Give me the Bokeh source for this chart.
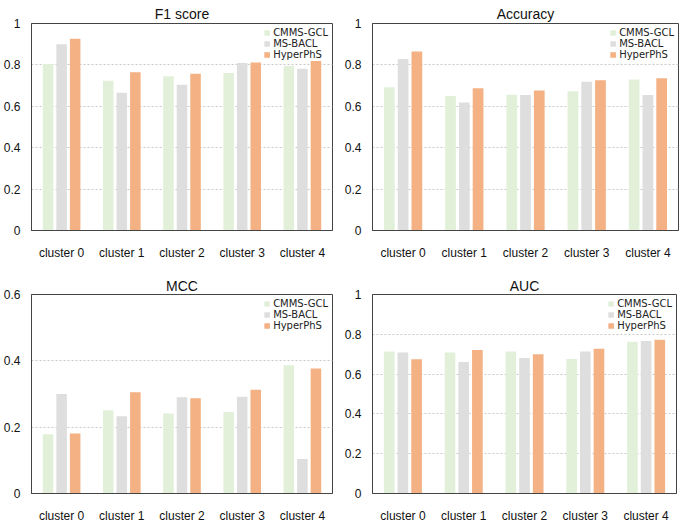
from bokeh.plotting import figure
from bokeh.layouts import column, row
from bokeh.models import FactorRange, Range1d, FixedTicker, CustomJSTickFormatter, ColumnDataSource, Legend, LegendItem
from bokeh.transform import dodge
from bokeh.embed import file_html
from bokeh.resources import INLINE

clusters = ["cluster 0", "cluster 1", "cluster 2", "cluster 3", "cluster 4"]
methods = ["CMMS-GCL", "MS-BACL", "HyperPhS"]
colors = ["#e2f0d9", "#dedede", "#f4b183"]

f1_cmms = [0.803, 0.724, 0.745, 0.761, 0.795]
f1_msbacl = [0.900, 0.665, 0.704, 0.809, 0.781]
f1_hyper = [0.926, 0.765, 0.757, 0.811, 0.819]

acc_cmms = [0.692, 0.650, 0.656, 0.673, 0.729]
acc_msbacl = [0.828, 0.618, 0.655, 0.719, 0.655]
acc_hyper = [0.865, 0.687, 0.676, 0.726, 0.735]

mcc_cmms = [0.179, 0.251, 0.241, 0.246, 0.387]
mcc_msbacl = [0.300, 0.233, 0.290, 0.292, 0.104]
mcc_hyper = [0.181, 0.305, 0.287, 0.313, 0.377]

auc_cmms = [0.714, 0.709, 0.714, 0.676, 0.762]
auc_msbacl = [0.708, 0.661, 0.681, 0.714, 0.766]
auc_hyper = [0.674, 0.721, 0.700, 0.727, 0.772]

ticks_1 = [0, 0.2, 0.4, 0.6, 0.8, 1]
ticks_06 = [0, 0.2, 0.4, 0.6]

FONT = "Liberation Sans"
LEG_FONT = "DejaVu Sans"


def panel(title, vals, ymax, ticks, w, h, bl, br, bt, bb, toff, valign):
    src = ColumnDataSource(dict(x=clusters, a=vals[0], b=vals[1], c=vals[2]))
    p = figure(x_range=FactorRange(factors=clusters, range_padding=0),
               y_range=Range1d(0, ymax), width=w, height=h,
               output_backend="svg", toolbar_location=None,
               min_border_left=bl, min_border_right=br,
               min_border_top=bt, min_border_bottom=bb)
    p.title.text = title
    p.title.align = "center"
    p.title.vertical_align = valign
    p.title.text_font = FONT
    p.title.text_font_size = "14px"
    p.title.text_font_style = "normal"
    p.title.text_color = "#111111"
    p.title.offset = toff
    p.title.standoff = 0
    offs = [-0.225, 0.0, 0.225]
    items = []
    for key, off, col, name in zip(["a", "b", "c"], offs, colors, methods):
        r = p.vbar(x=dodge("x", off, range=p.x_range), top=key, width=0.175,
                   source=src, fill_color=col, line_color=None)
        items.append(LegendItem(label=name, renderers=[r]))
    leg = Legend(items=items, location="top_right")
    leg.label_text_font = LEG_FONT
    leg.label_text_font_size = "10px"
    leg.label_text_color = "#222222"
    leg.glyph_width = 7
    leg.glyph_height = 7
    leg.label_height = 11
    leg.label_standoff = 3
    leg.spacing = 0
    leg.padding = 2
    leg.margin = 2
    leg.border_line_alpha = 0
    leg.background_fill_alpha = 0
    p.add_layout(leg)

    p.xgrid.grid_line_color = None
    p.ygrid.ticker = FixedTicker(ticks=ticks)
    p.ygrid.grid_line_color = "#c8c8c8"
    p.ygrid.grid_line_dash = "2 2"
    p.yaxis.ticker = FixedTicker(ticks=ticks)
    p.yaxis.formatter = CustomJSTickFormatter(code="return tick.toString()")
    for ax in (p.xaxis, p.yaxis):
        ax.major_tick_line_color = None
        ax.minor_tick_line_color = None
        ax.axis_line_color = "#444444"
        ax.major_label_text_font = FONT
        ax.major_label_text_font_size = "12px"
        ax.major_label_text_color = "#111111"
    p.yaxis.major_label_standoff = 5
    p.xaxis.major_label_standoff = 9
    p.outline_line_color = "#444444"
    p.outline_line_width = 1
    return p


p1 = panel("F1 score", [f1_cmms, f1_msbacl, f1_hyper], 1, ticks_1, 341, 262, 23, 9, 23, 28, 7, "top")
p2 = panel("Accuracy", [acc_cmms, acc_msbacl, acc_hyper], 1, ticks_1, 341, 262, 30, 4, 23, 31, 10, "top")
p3 = panel("MCC", [mcc_cmms, mcc_msbacl, mcc_hyper], 0.6, ticks_06, 341, 263, 23, 9, 32, 23, -3, "middle")
p4 = panel("AUC", [auc_cmms, auc_msbacl, auc_hyper], 1, ticks_1, 341, 263, 30, 6, 32, 23, -3, "middle")

layout = column(row(p1, p2), row(p3, p4))
open("out.html", "w").write(file_html(layout, INLINE))
